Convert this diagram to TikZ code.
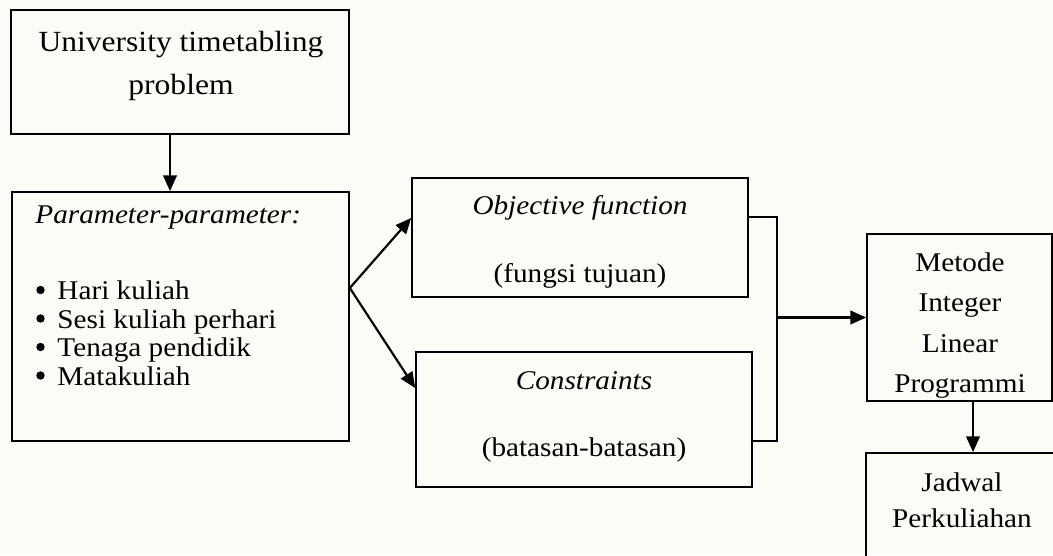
\documentclass[tikz,border=0pt]{standalone}
\usepackage{fontspec}
\setmainfont{Liberation Serif}[FakeStretch=1.08]
\usetikzlibrary{arrows.meta, calc}
\definecolor{kertas}{RGB}{252,252,246}

\begin{document}
\begin{tikzpicture}[x=0.414pt, y=-0.414pt,
        kotak/.style={draw, line width=0.7pt, inner sep=0pt},
        teks/.style={inner sep=0pt, align=center, font=\fontsize{11.2}{#1}\selectfont},
        teks/.default=14pt,
        panah/.style={-{Triangle[length=6.5pt, width=5.6pt]}, line width=0.9pt}]
    \useasboundingbox (0,0) rectangle (1053,555);
    \clip (0,0) rectangle (1053,555);
    \fill[kertas] (0,0) rectangle (1053,555);
    \node[kotak, minimum width=139.9pt, minimum height=51.3pt] (prob) at (180,72) {};
    \node[teks, font=\fontsize{12.1}{17.8}\selectfont] (probT) at (181,65.5) {University timetabling\\problem};
    \node[kotak, minimum width=139.5pt, minimum height=103.1pt] (par) at (180.5,316.5) {};
    \node[teks, anchor=west] (parT) at (35,218) {\textit{Parameter-parameter:}};
    \node[teks=11.8pt, anchor=west, align=left] (parL) at (57,333) {Hari kuliah\\Sesi kuliah perhari\\Tenaga pendidik\\Matakuliah};
    \foreach \y in {290,318.5,347,375.5}
        \fill (40.5,\y) circle (4.2);
    \node[kotak, minimum width=139.1pt, minimum height=49.3pt] (obj) at (580,237.5) {};
    \node[teks=28.2pt] (objT) at (580,241.5) {\textit{Objective function}\\(fungsi tujuan)};
    \node[kotak, minimum width=139.1pt, minimum height=55.9pt] (con) at (584,419.5) {};
    \node[teks=27.7pt] (conT) at (584,416.5) {\textit{Constraints}\\(batasan-batasan)};
    \node[kotak, minimum width=76.6pt, minimum height=69.1pt] (ilp) at (959.5,317.5) {};
    \node[teks=16.6pt] (ilpT) at (960,325.5) {Metode\\Integer\\Linear\\Programmi};
    \node[kotak, minimum width=79.5pt, minimum height=70.4pt] (jad) at (962,538) {};
    \node[teks=14.9pt] (jadT) at (962,500) {Jadwal\\Perkuliahan};
    \draw[panah] ($(prob.south)+(-10,0)$) -- ($(par.north)+(-10.5,0)$);
    \coordinate (cabang) at ($(par.east)+(0,-28.5)$);
    \draw[panah] (cabang) -- ($(obj.west)+(0,-19.5)$);
    \draw[panah] (cabang) -- ($(con.west)+(0,-31.5)$);
    \coordinate (gabung) at (777,317.5);
    \draw[line width=0.9pt] ($(obj.east)+(0,-20.5)$) -| (gabung) |- ($(con.east)+(0,21.5)$);
    \draw[panah] (gabung) -- (ilp.west);
    \draw[panah] ($(ilp.south)+(13.5,0)$) -- ($(jad.north)+(11,0)$);
\end{tikzpicture}
\end{document}
